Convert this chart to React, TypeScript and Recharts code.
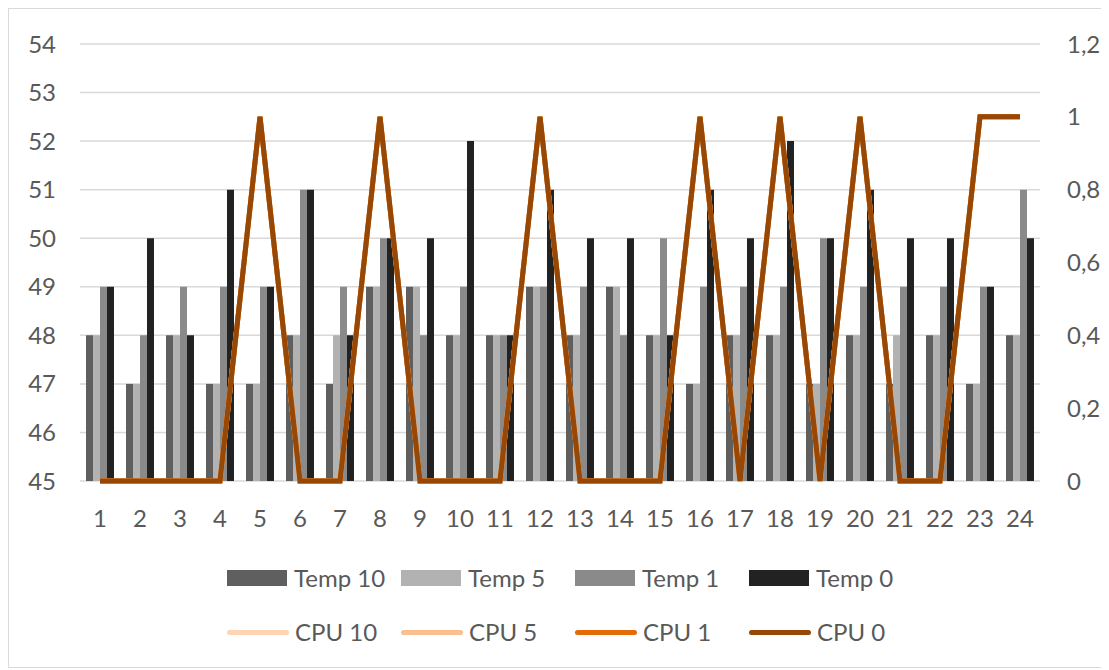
import {
  ComposedChart,
  Bar,
  Line,
  XAxis,
  YAxis,
  CartesianGrid,
  Legend,
} from "recharts";

// hours 1..24
const hours = [
  "1", "2", "3", "4", "5", "6", "7", "8", "9", "10", "11", "12",
  "13", "14", "15", "16", "17", "18", "19", "20", "21", "22", "23", "24",
];

// temperatures (left axis)
const temp10 = [48, 47, 48, 47, 47, 48, 47, 49, 49, 48, 48, 49, 48, 49, 48, 47, 48, 48, 47, 48, 47, 48, 47, 48];
const temp5 = [48, 47, 48, 47, 47, 48, 48, 49, 49, 48, 48, 49, 48, 49, 48, 47, 48, 48, 47, 48, 48, 48, 47, 48];
const temp1 = [49, 48, 49, 49, 49, 51, 49, 50, 48, 49, 48, 49, 49, 48, 50, 49, 49, 49, 50, 49, 49, 49, 49, 51];
const temp0 = [49, 50, 48, 51, 49, 51, 48, 50, 50, 52, 48, 51, 50, 50, 48, 51, 50, 52, 50, 51, 50, 50, 49, 50];

// cpu load (right axis) - all four lie on top of each other
const cpu10 = [0, 0, 0, 0, 1, 0, 0, 1, 0, 0, 0, 1, 0, 0, 0, 1, 0, 1, 0, 1, 0, 0, 1, 1];
const cpu5 = [0, 0, 0, 0, 1, 0, 0, 1, 0, 0, 0, 1, 0, 0, 0, 1, 0, 1, 0, 1, 0, 0, 1, 1];
const cpu1 = [0, 0, 0, 0, 1, 0, 0, 1, 0, 0, 0, 1, 0, 0, 0, 1, 0, 1, 0, 1, 0, 0, 1, 1];
const cpu0 = [0, 0, 0, 0, 1, 0, 0, 1, 0, 0, 0, 1, 0, 0, 0, 1, 0, 1, 0, 1, 0, 0, 1, 1];

const leftTicks = [45, 46, 47, 48, 49, 50, 51, 52, 53, 54];
const rightTicks = [0, 0.2, 0.4, 0.6, 0.8, 1, 1.2];

const barSeries = [
  { key: "temp10", name: "Temp 10", color: "#5f5f5f" },
  { key: "temp5", name: "Temp 5", color: "#b2b2b2" },
  { key: "temp1", name: "Temp 1", color: "#8a8a8a" },
  { key: "temp0", name: "Temp 0", color: "#222222" },
];

const lineSeries = [
  { key: "cpu10", name: "CPU 10", color: "#fdd5b4" },
  { key: "cpu5", name: "CPU 5", color: "#fbbf8f" },
  { key: "cpu1", name: "CPU 1", color: "#e36c09" },
  { key: "cpu0", name: "CPU 0", color: "#974806" },
];

const data = hours.map((h, i) => ({
  hour: h,
  temp10: temp10[i],
  temp5: temp5[i],
  temp1: temp1[i],
  temp0: temp0[i],
  cpu10: cpu10[i],
  cpu5: cpu5[i],
  cpu1: cpu1[i],
  cpu0: cpu0[i],
}));

const FONT = "Lato, 'Open Sans', sans-serif";
const TEXT = "#595959";
const tickStyle = { fill: TEXT, fontSize: 24, fontFamily: FONT };

function LegendBox() {
  return (
    <div style={{ fontFamily: FONT, fontSize: 24, color: TEXT, lineHeight: 1 }}>
      <div style={{ display: "flex", height: 54, alignItems: "center" }}>
        {barSeries.map((s) => (
          <div key={s.key} style={{ width: 174, display: "flex", alignItems: "center" }}>
            <span style={{ width: 60, height: 16, background: s.color, marginRight: 7 }} />
            {s.name}
          </div>
        ))}
      </div>
      <div style={{ display: "flex", height: 54, alignItems: "center" }}>
        {lineSeries.map((s) => (
          <div key={s.key} style={{ width: 174, display: "flex", alignItems: "center" }}>
            <span
              style={{
                width: 62,
                height: 5,
                borderRadius: 3,
                background: s.color,
                marginRight: 6,
              }}
            />
            {s.name}
          </div>
        ))}
      </div>
    </div>
  );
}

export default function App() {
  return (
    <div
      style={{
        width: 1093,
        height: 658,
        border: "1px solid #d9d9d9",
        background: "#fff",
      }}
    >
      <ComposedChart
        width={1093}
        height={658}
        data={data}
        margin={{ top: 35, right: 2, bottom: 146, left: 11 }}
        barCategoryGap="15%"
        barGap={0}
      >
        {/* the 45 gridline doubles as the x axis line */}
        <CartesianGrid vertical={false} stroke="#d9d9d9" strokeWidth={1.5} yAxisId="left" />
        <XAxis
          dataKey="hour"
          height={40}
          tick={tickStyle}
          tickLine={false}
          tickSize={0}
          tickMargin={29}
          axisLine={false}
          interval={0}
        />
        <YAxis
          yAxisId="left"
          orientation="left"
          width={60}
          domain={[45, 54]}
          ticks={leftTicks}
          tick={tickStyle}
          tickLine={false}
          tickSize={0}
          tickMargin={24}
          axisLine={false}
        />
        <YAxis
          yAxisId="right"
          orientation="right"
          width={60}
          domain={[0, 1.2]}
          ticks={rightTicks}
          tick={tickStyle}
          tickLine={false}
          tickSize={0}
          tickMargin={27}
          axisLine={false}
          tickFormatter={(v: number) => String(v).replace(".", ",")}
        />
        {barSeries.map((s) => (
          <Bar
            key={s.key}
            yAxisId="left"
            dataKey={s.key}
            name={s.name}
            fill={s.color}
            isAnimationActive={false}
          />
        ))}
        {lineSeries.map((s) => (
          <Line
            key={s.key}
            yAxisId="right"
            type="linear"
            dataKey={s.key}
            name={s.name}
            stroke={s.color}
            strokeWidth={5}
            dot={false}
            activeDot={false}
            isAnimationActive={false}
          />
        ))}
        <Legend
          layout="horizontal"
          verticalAlign="middle"
          align="center"
          content={() => <LegendBox />}
          wrapperStyle={{ top: 542, left: 218, width: 700, height: 108 }}
        />
      </ComposedChart>
    </div>
  );
}
